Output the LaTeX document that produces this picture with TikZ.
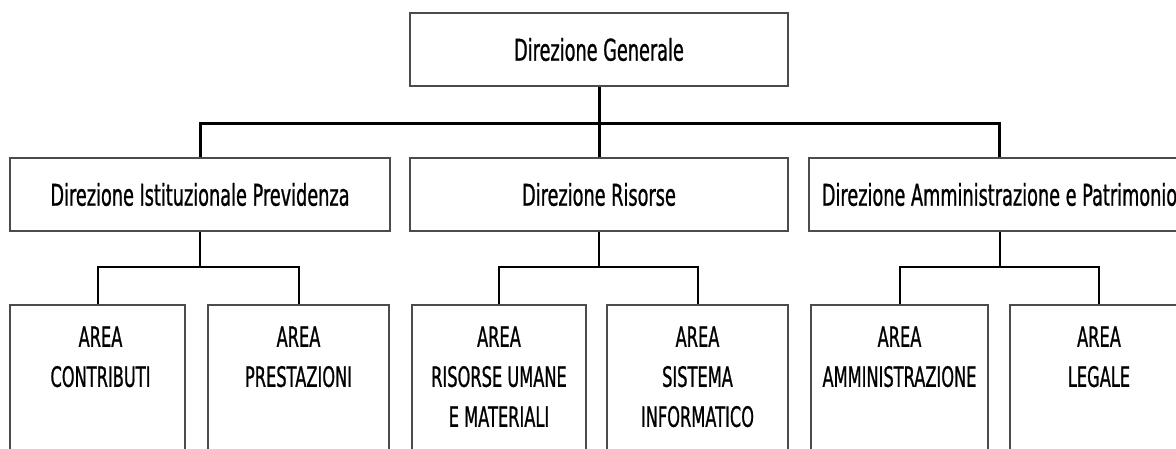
\documentclass[tikz,border=0pt]{standalone}
\usepackage{fontspec}
\newfontfamily\fa[FakeStretch=0.59,FakeBold=0.8]{DejaVu Sans}
\newfontfamily\fb[FakeStretch=0.58,FakeBold=0.8]{DejaVu Sans}
\begin{document}
\begin{tikzpicture}[x=1pt,y=-1pt,
  box/.style={draw=black!70, line width=1.6pt, inner sep=0pt},
  lbl/.style={font=\fa\fontsize{30}{36}\selectfont},
  sub/.style={font=\fb\fontsize{28}{40}\selectfont, align=center, inner sep=0pt, anchor=north},
  mainline/.style={line width=3pt},
  minorline/.style={line width=2pt}]
\useasboundingbox (0,0) rectangle (1176,448);
\clip (0,0) rectangle (1176,448);
% top
\node[box, lbl, minimum width=378pt, minimum height=73pt] (dg) at (599,49.5) {Direzione Generale};
% middle tier
\node[box, lbl, minimum width=380pt, minimum height=73pt] (dip) at (200,194.5) {Direzione Istituzionale Previdenza};
\node[box, lbl, minimum width=378pt, minimum height=73pt] (dr) at (599,194.5) {Direzione Risorse};
\node[box, lbl, minimum width=381pt, minimum height=73pt] (dap) at (999.5,194.5) {Direzione Amministrazione e Patrimonio};
% bottom tier
\node[box, minimum width=175pt, minimum height=175pt] (ac) at (97.5,392.5) {};
\node[box, minimum width=181pt, minimum height=175pt] (ap) at (298.5,392.5) {};
\node[box, minimum width=174pt, minimum height=175pt] (arum) at (499,392.5) {};
\node[box, minimum width=181pt, minimum height=175pt] (asi) at (697.5,392.5) {};
\node[box, minimum width=177pt, minimum height=175pt] (aam) at (899.5,392.5) {};
\node[box, minimum width=178pt, minimum height=175pt] (al) at (1099,392.5) {};
\node[sub] (tac) at ([yshift=-22pt,xshift=3pt]ac.north) {AREA\\CONTRIBUTI};
\node[sub] (tap) at ([yshift=-22pt]ap.north) {AREA\\PRESTAZIONI};
\node[sub] (tarum) at ([yshift=-22pt]arum.north) {AREA\\RISORSE UMANE\\E MATERIALI};
\node[sub] (tasi) at ([yshift=-22pt]asi.north) {AREA\\SISTEMA\\INFORMATICO};
\node[sub] (taam) at ([yshift=-22pt]aam.north) {AREA\\AMMINISTRAZIONE};
\node[sub] (tal) at ([yshift=-22pt]al.north) {AREA\\LEGALE};
% connectors
\coordinate (hub) at (599,123);
\draw[mainline] (dg.south) -- (dr.north);
\draw[mainline] (dip.north) |- (hub) -| (dap.north);
\coordinate (h1) at (200,267);
\coordinate (h2) at (599,267);
\coordinate (h3) at (999.5,267);
\draw[minorline] (dip.south) -- (h1);
\draw[minorline] (ac.north) |- (h1) -| (ap.north);
\draw[minorline] (dr.south) -- (h2);
\draw[minorline] (arum.north) |- (h2) -| (asi.north);
\draw[minorline] (dap.south) -- (h3);
\draw[minorline] (aam.north) |- (h3) -| (al.north);
\end{tikzpicture}
\end{document}
